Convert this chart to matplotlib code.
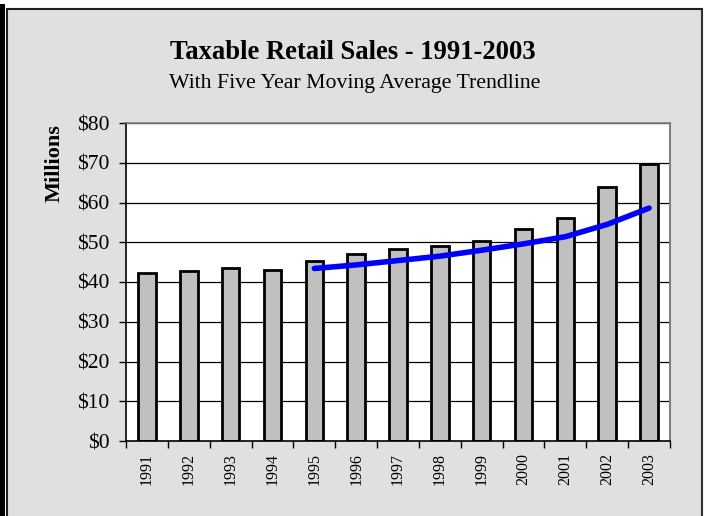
import matplotlib
matplotlib.use("Agg")
import matplotlib.pyplot as plt
from matplotlib.patches import Rectangle

years = ["1991", "1992", "1993", "1994", "1995", "1996", "1997",
         "1998", "1999", "2000", "2001", "2002", "2003"]
sales = [42.2, 42.8, 43.6, 42.9, 45.4, 47.0, 48.3, 49.1, 50.4, 53.3, 56.0, 63.8, 69.7]
# five-year moving average trendline values (1995-2003)
ma_years = ["1995", "1996", "1997", "1998", "1999", "2000", "2001", "2002", "2003"]
ma_values = [43.4, 44.3, 45.4, 46.5, 48.0, 49.6, 51.4, 54.5, 58.6]
yticks = [0, 10, 20, 30, 40, 50, 60, 70, 80]
ytick_labels = ["$0", "$10", "$20", "$30", "$40", "$50", "$60", "$70", "$80"]

W, H = 710, 516
fig = plt.figure(figsize=(W / 100, H / 100), dpi=100)
fig.patch.set_facecolor("white")

def px(x, y):
    return x / W, 1 - y / H

# outer chart frame (extends below the image edge)
fig.add_artist(Rectangle((7 / W, -0.05), (702 - 7) / W, (H - 9) / H + 0.05,
                         transform=fig.transFigure, facecolor="#e0e0e0",
                         edgecolor="#202020", linewidth=1.5, zorder=0))
fig.add_artist(Rectangle((701 / W, -0.05), 2 / W, (H - 9) / H + 0.05,
                         transform=fig.transFigure, facecolor="#303030",
                         edgecolor="none", zorder=1))
# left dark bar
fig.add_artist(Rectangle((0, 0), 5 / W, (H - 4) / H,
                         transform=fig.transFigure, facecolor="black",
                         edgecolor="none", zorder=1))

serif = ["Liberation Serif", "DejaVu Serif"]

left, right, top, bottom = 126, 670, 123, 441
ax = fig.add_axes([left / W, 1 - bottom / H, (right - left) / W, (bottom - top) / H])
ax.set_facecolor("white")

x = list(range(len(years)))
ax.bar(x, sales, width=0.42, color="#c0c0c0", edgecolor="black", linewidth=2.0, zorder=2)
ma_x = [years.index(y) for y in ma_years]
ax.plot(ma_x, ma_values, color="#0000ff", linewidth=4, solid_capstyle="round", zorder=3)

ax.set_xlim(-0.5, len(years) - 0.5)
ax.set_ylim(0, 80)
ax.set_yticks(yticks)
ax.set_yticklabels(ytick_labels, fontfamily=serif, fontsize=15.5)
for yv in yticks[1:]:
    ax.axhline(yv, color="black", linewidth=0.9, zorder=1)

ax.set_xticks([i - 0.5 for i in range(len(years) + 1)])
ax.set_xticklabels([])
ax.set_xticks(x, minor=True)
ax.set_xticklabels(years, minor=True, rotation=90, fontfamily=serif, fontsize=11.5)
ax.tick_params(axis="x", which="major", direction="out", length=5, width=1, color="black")
ax.tick_params(axis="x", which="minor", length=0, pad=8.5)
ax.tick_params(axis="y", direction="out", length=5, width=1, pad=7, color="black")

ax.spines["left"].set_color("black")
ax.spines["left"].set_linewidth(1.2)
ax.spines["bottom"].set_color("black")
ax.spines["bottom"].set_linewidth(1.2)
ax.spines["top"].set_color("#808080")
ax.spines["top"].set_linewidth(1.2)
ax.spines["right"].set_color("#808080")
ax.spines["right"].set_linewidth(1.5)

fig.text(*px(352.5, 59), "Taxable Retail Sales - 1991-2003", ha="center", va="baseline",
         fontfamily=serif, fontweight="bold", fontsize=19.2)
fig.text(*px(355, 88), "With Five Year Moving Average Trendline", ha="center", va="baseline",
         fontfamily=serif, fontsize=15.7)
fig.text(*px(55, 163), "Millions", ha="center", va="center", rotation=90,
         fontfamily=serif, fontweight="bold", fontsize=16)

fig.savefig("out.png", dpi=100)
